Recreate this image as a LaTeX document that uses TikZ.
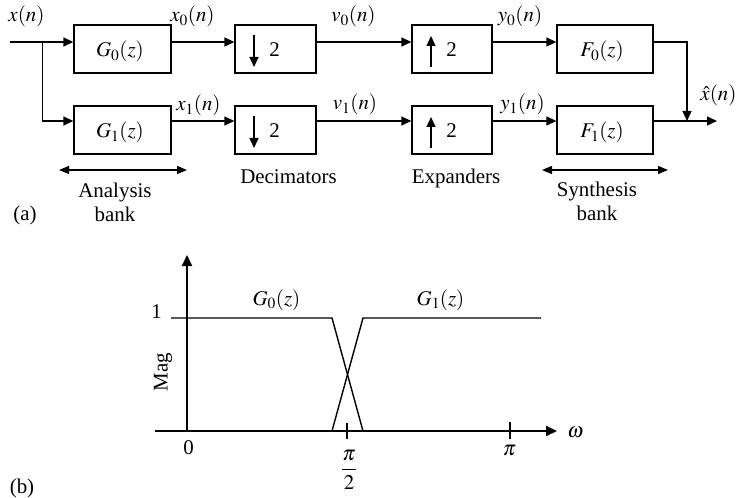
\documentclass[tikz,border=0pt]{standalone}
\usepackage{mathptmx}
\usepackage[no-math]{fontspec}
\setmainfont{Liberation Serif}
\usetikzlibrary{arrows.meta}
\begin{document}
\begin{tikzpicture}[x=1bp,y=-1bp,
  font=\fontsize{21}{24}\selectfont,
  blk/.style={draw,line width=1.3bp,minimum height=48bp,inner sep=0pt},
  sig/.style={line width=1.3bp,-{Triangle[length=10bp,width=9bp]}},
  dbl/.style={line width=1.3bp,{Triangle[length=10bp,width=8bp]}-{Triangle[length=10bp,width=8bp]}},
  ax/.style={line width=2bp,-{Triangle[length=11bp,width=10bp]}},
  crv/.style={line width=1.4bp},
  lbl/.style={inner sep=0pt,anchor=base}]
\useasboundingbox (0,0) rectangle (736,498);
% boxes
\node[blk,minimum width=97bp] (g0) at (122.5,49) {};
\node[blk,minimum width=97bp] (g1) at (122.5,130) {};
\node[blk,minimum width=81bp] (d0) at (275.5,49) {};
\node[blk,minimum width=81bp] (d1) at (275.5,130) {};
\node[blk,minimum width=80bp] (e0) at (452,49) {};
\node[blk,minimum width=80bp] (e1) at (452,130) {};
\node[blk,minimum width=96bp] (f0) at (605,49) {};
\node[blk,minimum width=96bp] (f1) at (605,130) {};
\node[lbl] (tg0) at (120,57) {$G_0(z)$};
\node[lbl] (tg1) at (120,138) {$G_1(z)$};
\node[lbl] (tf0) at (602,57) {$F_0(z)$};
\node[lbl] (tf1) at (602,138) {$F_1(z)$};
% decimator / expander symbols
\coordinate (r0) at (0,42);
\coordinate (r1) at (0,121);
\foreach \y in {0,81}{
  \draw[sig] (254,35+\y) -- (254,67+\y);
  \node[lbl] at (274.5,57+\y) {2};
  \draw[sig] (431,67+\y) -- (431,36+\y);
  \node[lbl] at (451.5,57+\y) {2};
}
% signals
\coordinate (in) at (10,42);
\coordinate (br) at (42.7,42);
\coordinate (sum) at (687,121);
\coordinate (out) at (717,121);
\coordinate (f0r) at (687,42);
\draw[sig] (in) -- (g0.west |- r0);
\draw[sig] (br) -- (br |- r1) -- (g1.west |- r1);
\draw[sig] (g0.east |- r0) -- (d0.west |- r0);
\draw[sig] (g1.east |- r1) -- (d1.west |- r1);
\draw[sig] (d0.east |- r0) -- (e0.west |- r0);
\draw[sig] (d1.east |- r1) -- (e1.west |- r1);
\draw[sig] (e0.east |- r0) -- (f0.west |- r0);
\draw[sig] (e1.east |- r1) -- (f1.west |- r1);
\draw[sig] (f0.east |- r0) -- (f0r) -- (sum);
\draw[sig] (f1.east |- r1) -- (out);
% signal labels
\node[lbl] (lx) at (26.5,22) {$x(n)$};
\node[lbl] (lx0) at (192.5,22) {$x_0(n)$};
\node[lbl] (lx1) at (198.5,111) {$x_1(n)$};
\node[lbl] (lv0) at (353.5,22) {$v_0(n)$};
\node[lbl] (lv1) at (355,110) {$v_1(n)$};
\node[lbl] (ly0) at (520,22) {$y_0(n)$};
\node[lbl] (ly1) at (522.5,110) {$y_1(n)$};
\node[lbl] (lxh) at (718.5,101) {$\hat{x}(n)$};
% bank labels
\coordinate (aL) at (59,170); \coordinate (aR) at (187,170);
\coordinate (sL) at (542,170); \coordinate (sR) at (668,170);
\draw[dbl] (aL) -- (aR);
\draw[dbl] (sL) -- (sR);
\node[lbl] (ta1) at (115,198) {Analysis};
\node[lbl] (ta2) at (115,222) {bank};
\node[lbl] (ts1) at (597,197) {Synthesis};
\node[lbl] (ts2) at (597,221) {bank};
\node[lbl] (td) at (288.5,184) {Decimators};
\node[lbl] (te) at (456,184) {Expanders};
\node[lbl] (la) at (25,221) {(a)};
% plot
\coordinate (O) at (187,431);
\coordinate (yT) at (187,255);
\coordinate (xL) at (155,431);
\coordinate (xT) at (557,431);
\draw[ax] (O) -- (yT);
\draw[ax] (xL) -- (xT);
\draw[crv] (171,318) -- (332,318) -- (363,431);
\draw[crv] (332,431) -- (363,318) -- (541,318);
\draw[line width=1.4bp] (347,423) -- (347,439);
\draw[line width=1.4bp] (510,422) -- (510,439);
\node[lbl] (l1) at (156.5,318) {1};
\node[lbl] (l0) at (188.5,454) {0};
\node[inner sep=0pt] (lpi2) at (349,470) {$\displaystyle\frac{\pi}{2}$};
\node[lbl] (lpi) at (509.5,455) {$\pi$};
\node[lbl] (lw) at (575.5,437) {$\omega$};
\node[inner sep=0pt,rotate=90] (lmag) at (163,372) {Mag};
\node[lbl] (lg0) at (276.5,305) {$G_0(z)$};
\node[lbl] (lg1) at (440.5,305) {$G_1(z)$};
\node[lbl] (lb) at (22,493) {(b)};
\end{tikzpicture}
\end{document}
